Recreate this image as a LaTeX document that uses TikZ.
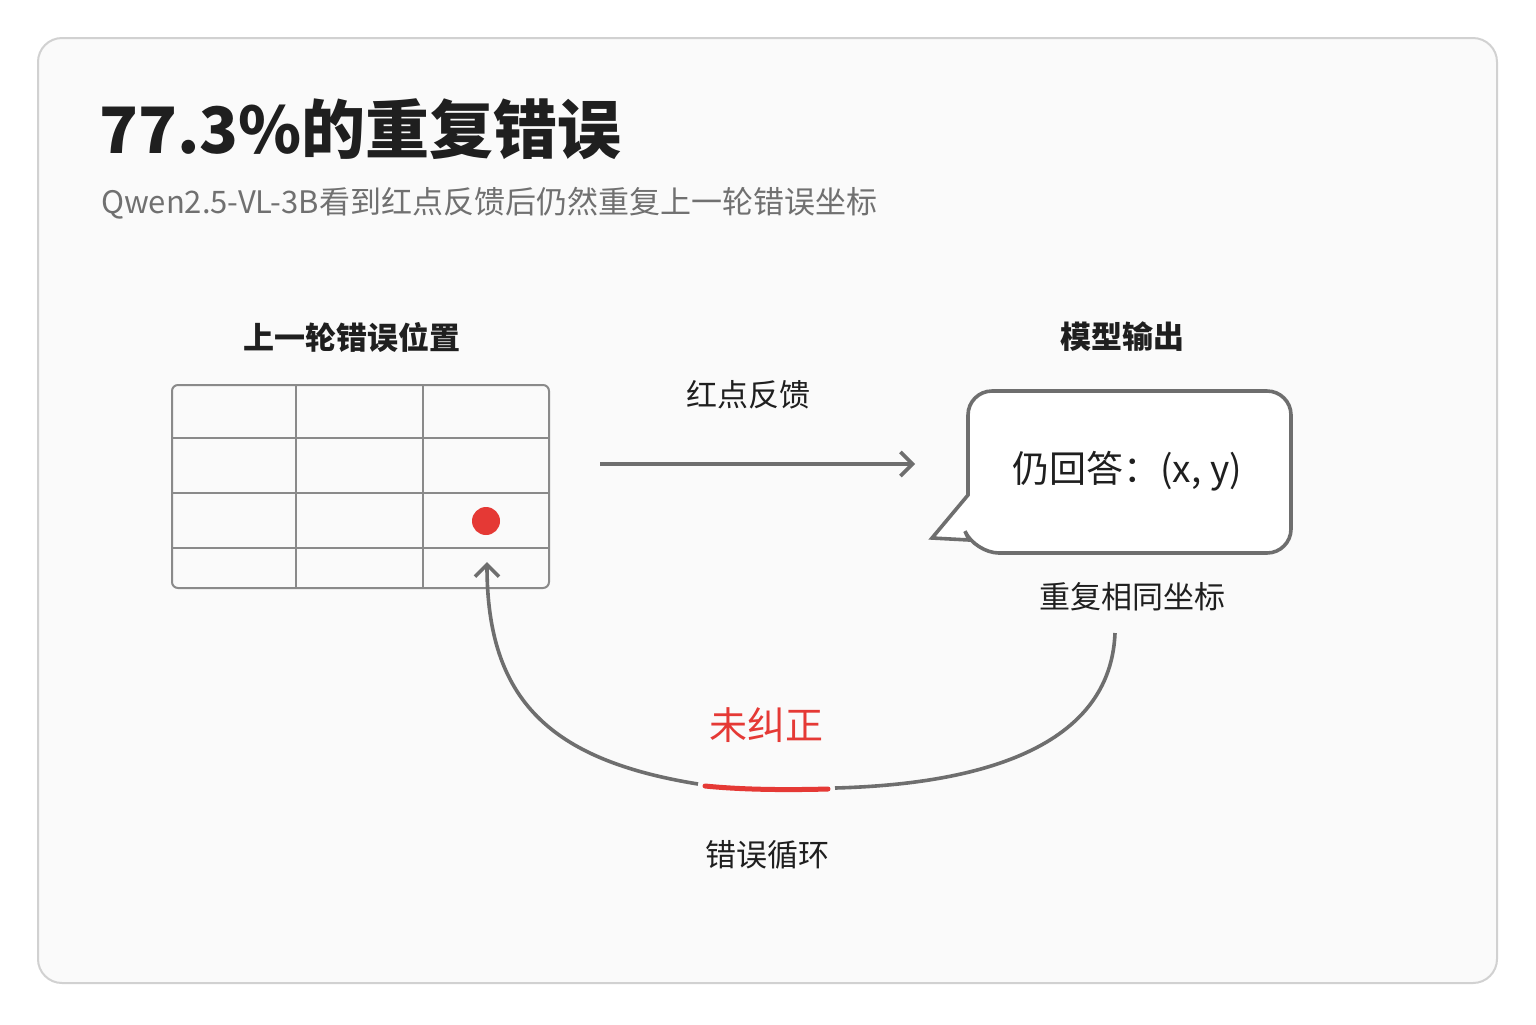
\documentclass[tikz,border=0pt]{standalone}
\usepackage{fontspec}
\setmainfont{Noto Sans CJK SC}
\usetikzlibrary{arrows.meta}
\definecolor{ink}{HTML}{1F1F1F}
\definecolor{linegray}{HTML}{6E6E6E}
\definecolor{gridgray}{HTML}{8A8A8A}
\definecolor{subgray}{HTML}{707070}
\definecolor{dotred}{HTML}{E53935}
\begin{document}
\begin{tikzpicture}[x=0.5pt,y=-0.5pt,
  label/.style={font=\fontsize{15.5}{18}\selectfont, text=ink},
  head/.style={font=\bfseries\fontsize{15.5}{18}\selectfont, text=ink},
  conn/.style={draw=linegray, line width=1.8pt}]
  \useasboundingbox (0,0) rectangle (1536,1024);
  \fill[white] (0,0) rectangle (1536,1024);
  \draw[draw=black!18, fill=black!2, line width=1pt, rounded corners=12pt] (38,38) rectangle (1497,983);

  % titles
  \node[anchor=base west, font=\bfseries\fontsize{32}{38}\selectfont, text=ink] (title) at (92,153) {77.3\%的重复错误};
  \node[anchor=base west, font=\fontsize{15.5}{18}\selectfont, text=subgray] (sub) at (94,213) {Qwen2.5-VL-3B看到红点反馈后仍然重复上一轮错误坐标};

  % left grid
  \node[head] (gridhead) at (352,337) {上一轮错误位置};
  \draw[draw=gridgray, line width=1pt, rounded corners=3pt] (172,385) rectangle (549,588);
  \foreach \x in {296,423} \draw[gridgray, line width=1pt] (\x,385) -- (\x,588);
  \foreach \y in {438,493,548} \draw[gridgray, line width=1pt] (172,\y) -- (549,\y);
  \fill[dotred] (486,521) circle (7pt);
  \coordinate (hit) at (487,562);

  % feedback arrow
  \coordinate (fbstart) at (600,464);
  \coordinate (fbend) at (915,464);
  \draw[conn, -{Straight Barb[length=6pt,width=12pt]}] (fbstart) -- (fbend);
  \node[label] (fblabel) at (748,395) {红点反馈};

  % speech bubble
  \node[head] (outhead) at (1122,337) {模型输出};
  \draw[conn, fill=white, rounded corners=12pt]
    (968,470) -- (968,391) -- (1291,391) -- (1291,553) -- (975,553)
    [sharp corners] -- (969,540) -- (932,538) -- (968,495) [rounded corners=12pt] -- cycle;
  \node[font=\fontsize{18.5}{22}\selectfont, text=ink] (answer) at (1127,471) {仍回答：(x, y)};
  \node[label] (same) at (1132,597) {重复相同坐标};

  % loop
  \coordinate (loopstart) at (1115,633);
  \coordinate (redR) at (828,789);
  \coordinate (redL) at (705,786);
  \coordinate (gapR) at (835,788);
  \coordinate (gapL) at (698,784);
  \draw[conn] (loopstart) .. controls (1110,760) and (950,785) .. (gapR);
  \draw[draw=dotred, line width=2.5pt, line cap=round] (redL) .. controls (745,790) and (790,790) .. (redR);
  \draw[conn, -{Straight Barb[length=6pt,width=12pt]}] (gapL) .. controls (550,760) and (487,700) .. (hit);
  \node[font=\fontsize{19}{22}\selectfont, text=dotred] (nofix) at (766,725) {未纠正};
  \node[label] (cycle) at (767,855) {错误循环};
\end{tikzpicture}
\end{document}
